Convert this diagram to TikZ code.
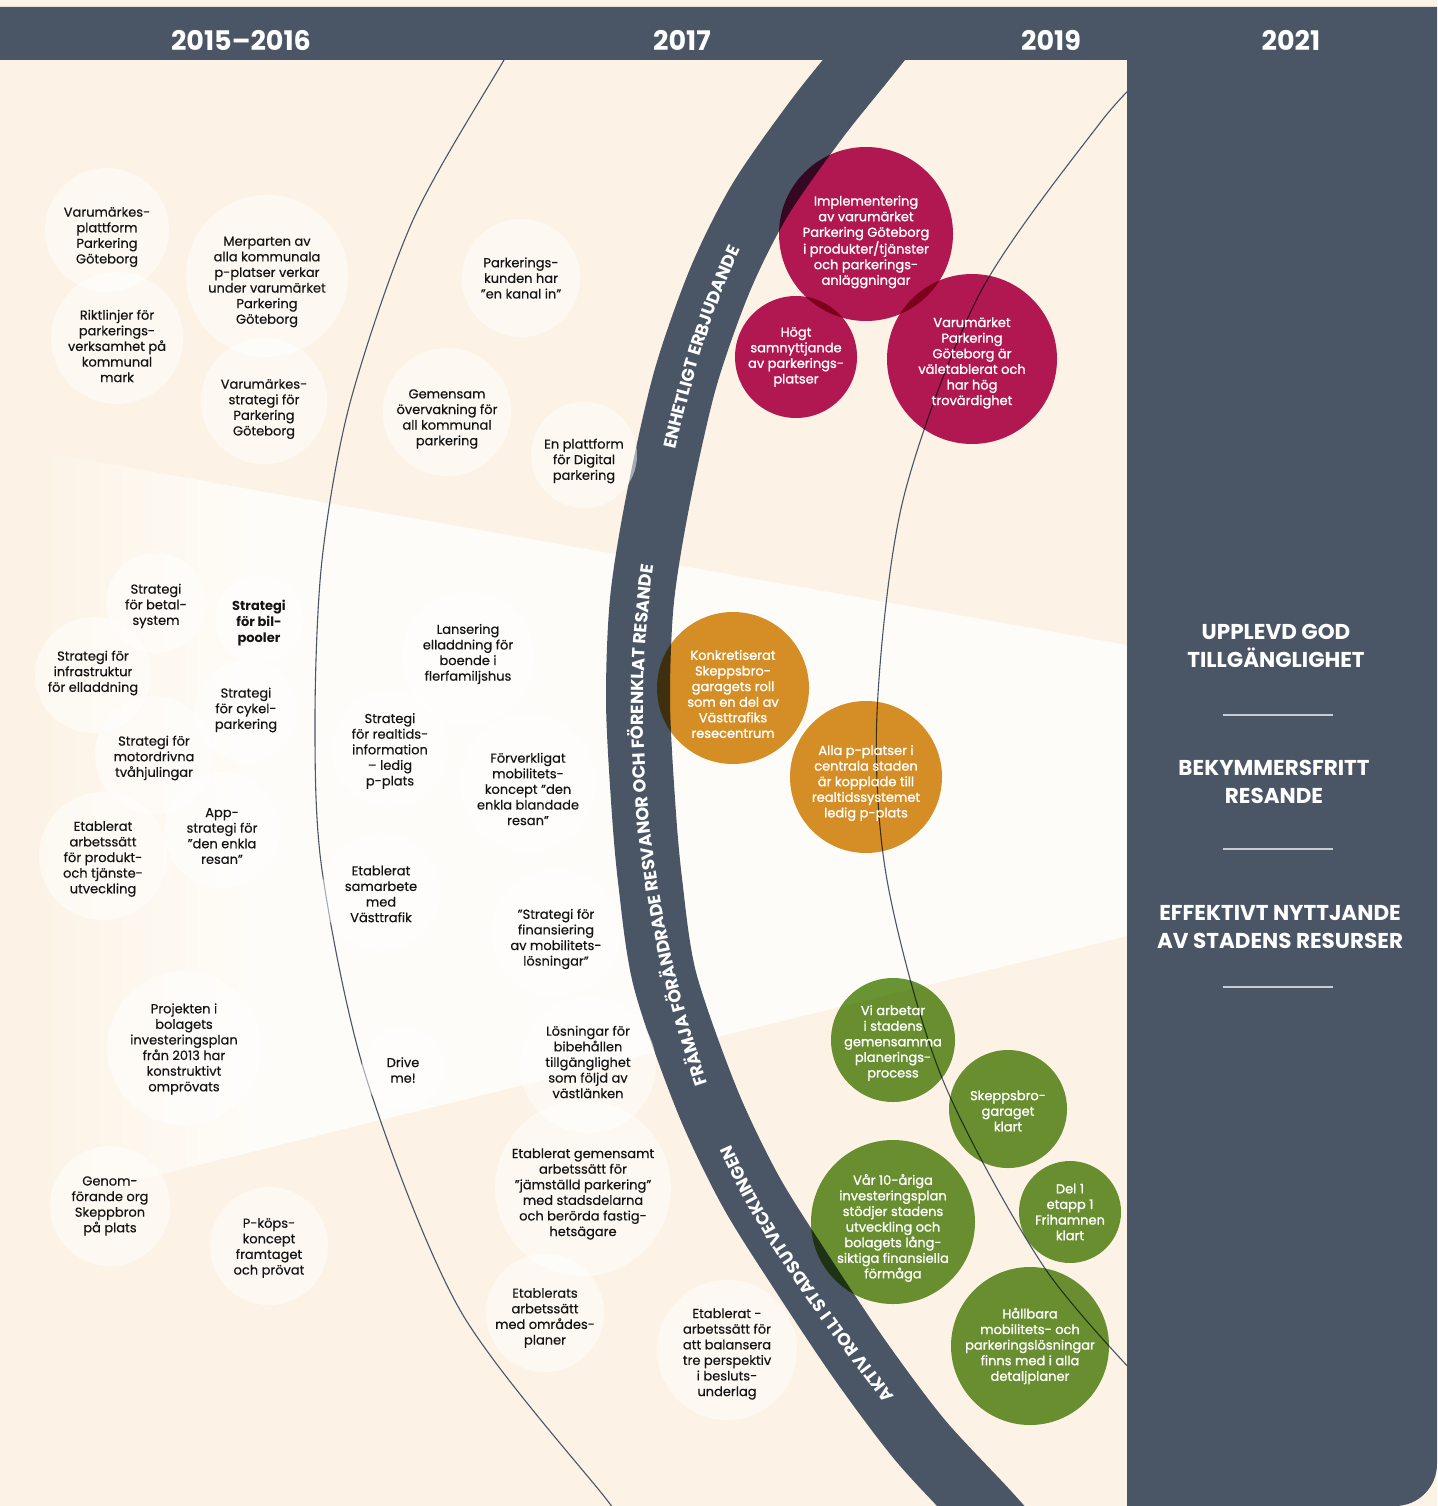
\documentclass[tikz,border=0pt]{standalone}
\usepackage{fontspec}
\setmainfont{Poppins}
\newfontfamily\bookfont{Poppins}[FakeBold=0.4]
\newfontfamily\medfont{Poppins}[FakeBold=1.3]
\usepackage{xcolor}
\usepackage{tikz}
\usetikzlibrary{decorations.text}

\definecolor{cream}{HTML}{FCF3E6}
\definecolor{paleband}{HTML}{FEFCF8}
\definecolor{slate}{HTML}{4A5565}
\definecolor{plum}{HTML}{B4195A}
\definecolor{ochre}{HTML}{D69027}
\definecolor{moss}{HTML}{6A9636}
\definecolor{rulegray}{HTML}{C9CDD3}

\tikzset{
  bubble/.style={circle, fill=white, fill opacity=0.5, inner sep=0pt},
  goal/.style={circle, inner sep=0pt},
  dtxt/.style={align=center, text=black!92, inner sep=0pt, font=\bookfont\fontsize{13}{15.6}\selectfont},
  wtxt/.style={align=center, text=white, inner sep=0pt, font=\medfont\fontsize{13}{15.6}\selectfont},
  year/.style={text=white, font=\bfseries\fontsize{27}{30}\selectfont},
  aim/.style={align=center, text=white, font=\bfseries\fontsize{21.5}{28.5}\selectfont},
  bandtext/.style={decorate, decoration={text along path, text align=center, text color=white, raise=-6pt}},
  thinarc/.style={draw=slate, line width=1.1pt},
}
\newcommand\bandfont{\bfseries\fontsize{17.5}{17.5}\selectfont}

\begin{document}
\begin{tikzpicture}[x=1pt, y=-1pt]
\useasboundingbox (0,0) rectangle (1437,1506);
\clip (0,0) rectangle (1437,1506);

% background and light fan
\fill[cream] (0,0) rectangle (1437,1506);
\fill[paleband] (40,452) -- (1127,645) -- (1127,936) -- (40,1204) -- cycle;
\begin{scope}
  \clip (40,452) -- (1127,645) -- (1127,936) -- (40,1204) -- cycle;
  \shade[left color=cream, right color=paleband] (40,400) rectangle (250,1250);
\end{scope}

% time arcs
\draw[thinarc] plot[smooth] coordinates {(540,0) (504,60) (413,220) (350,403) (322,560) (315,720) (322,870) (366,1077) (460,1310) (607,1500) (615,1512)};
\draw[thinarc] plot[smooth] coordinates {(1150,70) (1100,123) (980,293) (903,500) (877,713) (887,880) (942,1078) (1044,1267) (1150,1390)};
% the main band
\draw[slate, line width=64pt] plot[smooth] coordinates {(912,0) (864,60) (816,120) (760,200) (720,280) (685,380) (658,500) (642,600) (638,700) (643,800) (650,880) (665,980) (707,1100) (750,1190) (800,1270) (860,1360) (920,1440) (985,1510) (1030,1560)};
\fill[cream] (0,0) rectangle (1437,7);

% 2015-2016 and 2017
\node[bubble, minimum size=124] (plattform) at (107,230) {};
\node[bubble, minimum size=132] (riktlinjer) at (117,338) {};
\node[bubble, minimum size=162] (merparten) at (267,276) {};
\node[bubble, minimum size=126] (strategi) at (264,401) {};
\node[bubble, minimum size=118] (kanal) at (521,278) {};
\node[bubble, minimum size=128] (overvakning) at (447,412) {};
\node[bubble, minimum size=106] (digital) at (584,455) {};
\node[bubble, minimum size=100] (betal) at (156,603) {};
\node[bubble, minimum size=88] (bilpooler) at (259,619) {};
\node[bubble, minimum size=116] (elladdning) at (93,675) {};
\node[bubble, minimum size=102] (cykel) at (246,711) {};
\node[bubble, minimum size=118] (tvahjul) at (154,755) {};
\node[bubble, minimum size=116] (app) at (222,830) {};
\node[bubble, minimum size=128] (produkt) at (103,856) {};
\node[bubble, minimum size=132] (lansering) at (468,658) {};
\node[bubble, minimum size=116] (realtid) at (390,749) {};
\node[bubble, minimum size=136] (mobilitet) at (528,783) {};
\node[bubble, minimum size=118] (vasttrafik) at (381,892) {};
\node[bubble, minimum size=128] (finansiering) at (556,933) {};
\node[bubble, minimum size=154] (projekten) at (184,1048) {};
\node[bubble, minimum size=82] (drive) at (403,1068) {};
\node[bubble, minimum size=136] (vastlanken) at (588,1065) {};
\node[bubble, minimum size=120] (genomforande) at (110,1206) {};
\node[bubble, minimum size=118] (pkop) at (269,1246) {};
\node[bubble, minimum size=176] (jamstalld) at (583,1188) {};
\node[bubble, minimum size=118] (omrade) at (545,1313) {};
\node[bubble, minimum size=140] (balansera) at (727,1350) {};

% 2019
\begin{scope}[blend mode=multiply]
  \node[goal, fill=plum, minimum size=174] (implementering) at (866,234) {};
  \node[goal, fill=plum, minimum size=122] (samnyttjande) at (796,357) {};
  \node[goal, fill=plum, minimum size=170] (varumarket) at (972,359) {};
  \node[goal, fill=ochre, minimum size=152] (skeppsbro) at (733,688) {};
  \node[goal, fill=ochre, minimum size=152] (pplatser) at (866,777) {};
  \node[goal, fill=moss, minimum size=124] (planering) at (893,1040) {};
  \node[goal, fill=moss, minimum size=118] (garaget) at (1008,1109) {};
  \node[goal, fill=moss, minimum size=164] (tioarig) at (893,1222) {};
  \node[goal, fill=moss, minimum size=102] (frihamnen) at (1070,1212) {};
  \node[goal, fill=moss, minimum size=158] (hallbara) at (1030,1346) {};
\end{scope}

% band labels
\path[bandtext, decoration={text={|\bandfont|ENHETLIGT ERBJUDANDE}}] (658,500) .. controls (681.5,395.6) and (705,291.7) .. (760,200);
\path[bandtext, decoration={text={|\bandfont|FRÄMJA FÖRÄNDRADE RESVANOR OCH FÖRENKLAT RESANDE}}] (707,1100) .. controls (645,923.5) and (620.5,734.6) .. (650,550);
\path[bandtext, decoration={text={|\bandfont|AKTIV ROLL I STADSUTVECKLINGEN}}] (920,1440) .. controls (838,1330.4) and (752.2,1229.3) .. (707,1100);

% header and 2021 panel
\fill[slate] (0,7) -- (1437,7) -- (1437,1464) arc[start angle=0, end angle=90, radius=42] -- (1127,1506) -- (1127,60) -- (0,60) -- cycle;
\node[year] (yr1516) at (241,40) {2015–2016};
\node[year] (yr17) at (682,40) {2017};
\node[year] (yr19) at (1051,40) {2019};
\node[year] (yr21) at (1291,40) {2021};

\node[aim] (tillganglighet) at (1276,646) {UPPLEVD GOD\\TILLGÄNGLIGHET};
\node[aim] (resande) at (1274,782) {BEKYMMERSFRITT\\RESANDE};
\node[aim] (resurser) at (1280,927) {EFFEKTIVT NYTTJANDE\\AV STADENS RESURSER};
\foreach \y in {715,849,987}
  \draw[rulegray, line width=1.6pt] (1223,\y) -- (1333,\y);

% texts
\node[dtxt, yshift=-7] (plattform-t) at (plattform) {Varumärkes-\\plattform\\Parkering\\Göteborg};
\node[dtxt, yshift=-8] (riktlinjer-t) at (riktlinjer) {Riktlinjer för\\parkerings-\\verksamhet på\\kommunal\\mark};
\node[dtxt, yshift=-6] (merparten-t) at (merparten) {Merparten av\\alla kommunala\\p-platser verkar\\under varumärket\\Parkering\\Göteborg};
\node[dtxt, yshift=-8] (strategi-t) at (strategi) {Varumärkes-\\strategi för\\Parkering\\Göteborg};
\node[dtxt, yshift=0] (kanal-t) at (kanal) {Parkerings-\\kunden har\\”en kanal in”};
\node[dtxt, yshift=-7] (overvakning-t) at (overvakning) {Gemensam\\övervakning för\\all kommunal\\parkering};
\node[dtxt, yshift=-6] (digital-t) at (digital) {En plattform\\för Digital\\parkering};
\node[dtxt, yshift=-3] (betal-t) at (betal) {Strategi\\för betal-\\system};
\node[dtxt, yshift=-4, font=\bfseries\fontsize{13}{15.6}\selectfont] (bilpooler-t) at (bilpooler) {Strategi\\för bil-\\pooler};
\node[dtxt, yshift=2] (elladdning-t) at (elladdning) {Strategi för\\infrastruktur\\för elladdning};
\node[dtxt, yshift=1] (cykel-t) at (cykel) {Strategi\\för cykel-\\parkering};
\node[dtxt, yshift=-3] (tvahjul-t) at (tvahjul) {Strategi för\\motordrivna\\tvåhjulingar};
\node[dtxt, yshift=-6] (app-t) at (app) {App-\\strategi för\\”den enkla\\resan”};
\node[dtxt, yshift=-3] (produkt-t) at (produkt) {Etablerat\\arbetssätt\\för produkt-\\och tjänste-\\utveckling};
\node[dtxt, yshift=4] (lansering-t) at (lansering) {Lansering\\elladdning för\\boende i\\flerfamiljshus};
\node[dtxt, yshift=-2] (realtid-t) at (realtid) {Strategi\\för realtids-\\information\\– ledig\\p-plats};
\node[dtxt, yshift=-6] (mobilitet-t) at (mobilitet) {Förverkligat\\mobilitets-\\koncept ”den\\enkla blandade\\resan”};
\node[dtxt, yshift=-2] (vasttrafik-t) at (vasttrafik) {Etablerat\\samarbete\\med\\Västtrafik};
\node[dtxt, yshift=-6] (finansiering-t) at (finansiering) {”Strategi för\\finansiering\\av mobilitets-\\lösningar”};
\node[dtxt, yshift=-1] (projekten-t) at (projekten) {Projekten i\\bolagets\\investeringsplan\\från 2013 har\\konstruktivt\\omprövats};
\node[dtxt, yshift=-2] (drive-t) at (drive) {Drive\\me!};
\node[dtxt, yshift=3] (vastlanken-t) at (vastlanken) {Lösningar för\\bibehållen\\tillgänglighet\\som följd av\\västlänken};
\node[dtxt, yshift=0] (genomforande-t) at (genomforande) {Genom-\\förande org\\Skeppbron\\på plats};
\node[dtxt, yshift=-2] (pkop-t) at (pkop) {P-köps-\\koncept\\framtaget\\och prövat};
\node[dtxt, yshift=-6] (jamstalld-t) at (jamstalld) {Etablerat gemensamt\\arbetssätt för\\”jämställd parkering”\\med stadsdelarna\\och berörda fastig-\\hetsägare};
\node[dtxt, yshift=-5] (omrade-t) at (omrade) {Etablerats\\arbetssätt\\med områdes-\\planer};
\node[dtxt, yshift=-4] (balansera-t) at (balansera) {Etablerat -\\arbetssätt för\\att balansera\\tre perspektiv\\i besluts-\\underlag};

\node[wtxt, yshift=-8] (implementering-t) at (implementering) {Implementering\\av varumärket\\Parkering Göteborg\\i produkter/tjänster\\och parkerings-\\anläggningar};
\node[wtxt, yshift=0] (samnyttjande-t) at (samnyttjande) {Högt\\samnyttjande\\av parkerings-\\platser};
\node[wtxt, yshift=-4] (varumarket-t) at (varumarket) {Varumärket\\Parkering\\Göteborg är\\väletablerat och\\har hög\\trovärdighet};
\node[wtxt, yshift=-6] (skeppsbro-t) at (skeppsbro) {Konkretiserat\\Skeppsbro-\\garagets roll\\som en del av\\Västtrafiks\\resecentrum};
\node[wtxt, yshift=-6] (pplatser-t) at (pplatser) {Alla p-platser i\\centrala staden\\är kopplade till\\realtidssystemet\\ledig p-plats};
\node[wtxt, yshift=-3] (planering-t) at (planering) {Vi arbetar\\i stadens\\gemensamma\\planerings-\\process};
\node[wtxt, yshift=-2] (garaget-t) at (garaget) {Skeppsbro-\\garaget\\klart};
\node[wtxt, yshift=-6] (tioarig-t) at (tioarig) {Vår 10-åriga\\investeringsplan\\stödjer stadens\\utveckling och\\bolagets lång-\\siktiga finansiella\\förmåga};
\node[wtxt, yshift=0] (frihamnen-t) at (frihamnen) {Del 1\\etapp 1\\Frihamnen\\klart};
\node[wtxt, yshift=0] (hallbara-t) at (hallbara) {Hållbara\\mobilitets- och\\parkeringslösningar\\finns med i alla\\detaljplaner};
\end{tikzpicture}
\end{document}
